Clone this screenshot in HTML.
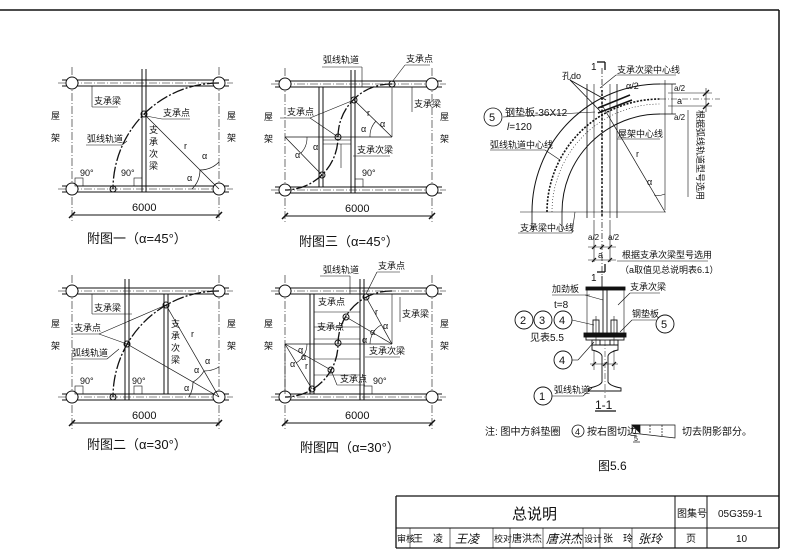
<!DOCTYPE html>
<html><head><meta charset="utf-8"><style>
html,body{margin:0;padding:0;background:#fff;}
svg{display:block;}
text{font-family:"Liberation Sans","Noto Sans CJK SC",sans-serif;fill:#111;}
.c{font-size:9px;}
.cap{font-size:13px;}
</style></head><body>
<svg width="786" height="555" viewBox="0 0 786 555" xmlns="http://www.w3.org/2000/svg">
<defs>
<g id="frame" stroke="#111" fill="none" stroke-width="1">
  <line x1="-10" y1="-109" x2="157" y2="-109"/><line x1="-10" y1="-103" x2="157" y2="-103"/>
  <line x1="-10" y1="-3" x2="157" y2="-3"/><line x1="-10" y1="3" x2="157" y2="3"/>
  <line x1="-14" y1="-106" x2="161" y2="-106" stroke-dasharray="8,2,1,2" stroke-width="0.6"/>
  <line x1="-14" y1="0" x2="161" y2="0" stroke-dasharray="8,2,1,2" stroke-width="0.6"/>
  <line x1="0" y1="-122" x2="0" y2="32" stroke-dasharray="8,2,1,2" stroke-width="0.6"/>
  <line x1="147" y1="-122" x2="147" y2="32" stroke-dasharray="8,2,1,2" stroke-width="0.6"/>
  <circle cx="0" cy="-106" r="6" fill="#fff"/><circle cx="147" cy="-106" r="6" fill="#fff"/>
  <circle cx="0" cy="0" r="6" fill="#fff"/><circle cx="147" cy="0" r="6" fill="#fff"/>
  <line x1="0" y1="26" x2="147" y2="26"/>
  <line x1="-3" y1="29" x2="3" y2="23" stroke-width="1.5"/><line x1="144" y1="29" x2="150" y2="23" stroke-width="1.5"/>
</g>
</defs>

<line x1="0" y1="10" x2="779" y2="10" stroke="#111" stroke-width="1.5"/>
<line x1="779" y1="10" x2="779" y2="548" stroke="#111" stroke-width="1.5"/>

<!-- 附图一 -->
<g transform="translate(72,189)">
  <use href="#frame"/>
  <g stroke="#111" fill="none">
    <line x1="70" y1="-120" x2="70" y2="3"/><line x1="74" y1="-120" x2="74" y2="3"/>
    <path d="M147,-106 A106,106 0 0 0 41,0" stroke-width="1.3" stroke-dasharray="12,2,2,2"/>
    <circle cx="72" cy="-75" r="3"/><circle cx="41" cy="0" r="3"/>
    <line x1="147" y1="0" x2="72" y2="-75" stroke-width="0.7"/>
    <path d="M120,0 A27,27 0 0 0 128,-19" stroke-width="0.7"/>
    <path d="M128,-19 A27,27 0 0 0 147,-27" stroke-width="0.7"/>
    <line x1="20" y1="-103" x2="20" y2="-82" stroke-width="0.6"/><line x1="20" y1="-82" x2="46" y2="-82" stroke-width="0.6"/>
    <line x1="74" y1="-73" x2="90" y2="-70" stroke-width="0.6"/><line x1="90" y1="-70" x2="118" y2="-70" stroke-width="0.6"/>
    <line x1="14" y1="-44" x2="50" y2="-44" stroke-width="0.6"/><line x1="50" y1="-44" x2="55" y2="-48" stroke-width="0.6"/>
    <rect x="3" y="-11" width="8" height="8" stroke-width="0.6"/><rect x="62" y="-11" width="8" height="8" stroke-width="0.6"/>
  </g>
  <text class="c" x="22" y="-85">支承梁</text>
  <text class="c" x="91" y="-73">支承点</text>
  <text class="c" x="15" y="-47">弧线轨道</text>
  <text class="c" x="-21" y="-70">屋</text><text class="c" x="-21" y="-48">架</text>
  <text class="c" x="155" y="-70">屋</text><text class="c" x="155" y="-48">架</text>
  <text class="c" x="77" y="-56">支</text><text class="c" x="77" y="-44">承</text><text class="c" x="77" y="-32">次</text><text class="c" x="77" y="-20">梁</text>
  <text class="c" x="8" y="-13">90°</text><text class="c" x="49" y="-13">90°</text>
  <text class="c" x="112" y="-40">r</text><text class="c" x="130" y="-30">α</text><text class="c" x="115" y="-8">α</text>
  <text x="60" y="22" font-size="11">6000</text>
  <text class="cap" x="15" y="54">附图一（α=45°）</text>
</g>

<!-- 附图三 -->
<g transform="translate(285,190)">
  <use href="#frame"/>
  <g stroke="#111" fill="none">
    <line x1="34" y1="-103" x2="34" y2="-3"/><line x1="38" y1="-103" x2="38" y2="-3"/>
    <line x1="66" y1="-120" x2="66" y2="3"/><line x1="70" y1="-120" x2="70" y2="3"/>
    <path d="M107,-106 A53,53 0 0 0 53,-53 A53,53 0 0 1 0,0" stroke-width="1.3" stroke-dasharray="12,2,2,2"/>
    <circle cx="107" cy="-106" r="3"/><circle cx="69" cy="-90" r="3"/><circle cx="53" cy="-53" r="3"/><circle cx="37" cy="-15" r="3"/>
    <line x1="107" y1="-53" x2="69" y2="-90" stroke-width="0.7"/><line x1="107" y1="-53" x2="53" y2="-53" stroke-width="0.7"/>
    <line x1="107" y1="-103" x2="107" y2="-53" stroke-width="0.6"/>
    <line x1="0" y1="-53" x2="37" y2="-15" stroke-width="0.7"/><line x1="0" y1="-53" x2="53" y2="-53" stroke-width="0.7"/>
    <line x1="38" y1="-50" x2="66" y2="-50" stroke-width="0.6"/><line x1="38" y1="-46" x2="66" y2="-46" stroke-width="0.6"/>
    <line x1="56" y1="-46" x2="56" y2="-22" stroke-width="0.6"/>
    <path d="M85,-53 A22,22 0 0 1 91,-69" stroke-width="0.6"/><path d="M22,-53 A22,22 0 0 1 16,-37" stroke-width="0.6"/>
    <line x1="25" y1="-72" x2="53" y2="-53" stroke-width="0.6"/><line x1="25" y1="-72" x2="69" y2="-90" stroke-width="0.6"/>
    <line x1="-5" y1="-72" x2="25" y2="-72" stroke-width="0.6"/>
    <line x1="68" y1="-34" x2="105" y2="-34" stroke-width="0.6"/>
    <line x1="37" y1="-123" x2="77" y2="-123" stroke-width="0.6"/><line x1="77" y1="-123" x2="77" y2="-103" stroke-width="0.6"/>
    <line x1="107" y1="-108" x2="120" y2="-125" stroke-width="0.6"/><line x1="120" y1="-125" x2="145" y2="-125" stroke-width="0.6"/>
    <line x1="127" y1="-103" x2="127" y2="-78" stroke-width="0.6"/>
    <rect x="70" y="-11" width="8" height="8" stroke-width="0.6"/>
  </g>
  <text class="c" x="38" y="-127">弧线轨道</text>
  <text class="c" x="121" y="-128">支承点</text>
  <text class="c" x="129" y="-83">支承梁</text>
  <text class="c" x="2" y="-75">支承点</text>
  <text class="c" x="72" y="-37">支承次梁</text>
  <text class="c" x="-21" y="-70">屋</text><text class="c" x="-21" y="-48">架</text>
  <text class="c" x="155" y="-70">屋</text><text class="c" x="155" y="-48">架</text>
  <text class="c" x="77" y="-14">90°</text>
  <text class="c" x="82" y="-74">r</text><text class="c" x="95" y="-63">α</text><text class="c" x="76" y="-58">α</text>
  <text class="c" x="10" y="-32">α</text><text class="c" x="28" y="-40">α</text>
  <text x="60" y="22" font-size="11">6000</text>
  <text class="cap" x="14" y="56">附图三（α=45°）</text>
</g>

<!-- 附图二 -->
<g transform="translate(72,397)">
  <use href="#frame"/>
  <g stroke="#111" fill="none">
    <line x1="53" y1="-118" x2="53" y2="3"/><line x1="57" y1="-118" x2="57" y2="3"/>
    <line x1="92" y1="-103" x2="92" y2="-3"/><line x1="96" y1="-103" x2="96" y2="-3"/>
    <path d="M147,-106 A106,106 0 0 0 41,0" stroke-width="1.3" stroke-dasharray="12,2,2,2"/>
    <circle cx="94" cy="-92" r="3"/><circle cx="55" cy="-53" r="3"/><circle cx="41" cy="0" r="3"/>
    <line x1="147" y1="0" x2="94" y2="-92" stroke-width="0.7"/><line x1="147" y1="0" x2="55" y2="-53" stroke-width="0.7"/>
    <path d="M117,0 A30,30 0 0 0 121,-15" stroke-width="0.7"/><path d="M121,-15 A30,30 0 0 0 132,-26" stroke-width="0.7"/><path d="M132,-26 A30,30 0 0 0 147,-30" stroke-width="0.7"/>
    <line x1="20" y1="-103" x2="20" y2="-83" stroke-width="0.6"/><line x1="20" y1="-83" x2="60" y2="-83" stroke-width="0.6"/>
    <line x1="0" y1="-63" x2="27" y2="-63" stroke-width="0.6"/><line x1="27" y1="-63" x2="94" y2="-92" stroke-width="0.6"/><line x1="27" y1="-63" x2="55" y2="-53" stroke-width="0.6"/>
    <line x1="0" y1="-38" x2="35" y2="-38" stroke-width="0.6"/><line x1="35" y1="-38" x2="47" y2="-48" stroke-width="0.6"/>
    <rect x="3" y="-11" width="8" height="8" stroke-width="0.6"/><rect x="62" y="-11" width="8" height="8" stroke-width="0.6"/>
  </g>
  <text class="c" x="22" y="-86">支承梁</text>
  <text class="c" x="2" y="-66">支承点</text>
  <text class="c" x="0" y="-41">弧线轨道</text>
  <text class="c" x="-21" y="-70">屋</text><text class="c" x="-21" y="-48">架</text>
  <text class="c" x="155" y="-70">屋</text><text class="c" x="155" y="-48">架</text>
  <text class="c" x="99" y="-70">支</text><text class="c" x="99" y="-58">承</text><text class="c" x="99" y="-46">次</text><text class="c" x="99" y="-34">梁</text>
  <text class="c" x="8" y="-13">90°</text><text class="c" x="60" y="-13">90°</text>
  <text class="c" x="119" y="-60">r</text><text class="c" x="133" y="-33">α</text><text class="c" x="122" y="-24">α</text><text class="c" x="112" y="-6">α</text>
  <text x="60" y="22" font-size="11">6000</text>
  <text class="cap" x="15" y="52">附图二（α=30°）</text>
</g>

<!-- 附图四 -->
<g transform="translate(285,397)">
  <use href="#frame"/>
  <g stroke="#111" fill="none">
    <line x1="25" y1="-103" x2="25" y2="-3"/><line x1="29" y1="-103" x2="29" y2="-3"/>
    <line x1="75" y1="-118" x2="75" y2="3"/><line x1="79" y1="-118" x2="79" y2="3"/>
    <path d="M107,-106 A53,53 0 0 0 53,-53 A53,53 0 0 1 0,0" stroke-width="1.3" stroke-dasharray="12,2,2,2"/>
    <circle cx="81" cy="-100" r="3"/><circle cx="61" cy="-80" r="3"/><circle cx="53" cy="-54" r="3"/><circle cx="46" cy="-27" r="3"/><circle cx="27" cy="-8" r="3"/>
    <line x1="107" y1="-53" x2="81" y2="-100" stroke-width="0.7"/><line x1="107" y1="-53" x2="61" y2="-80" stroke-width="0.7"/><line x1="107" y1="-53" x2="53" y2="-53" stroke-width="0.7"/>
    <line x1="107" y1="-103" x2="107" y2="-53" stroke-width="0.6"/>
    <line x1="0" y1="-53" x2="46" y2="-27" stroke-width="0.7"/><line x1="0" y1="-53" x2="27" y2="-8" stroke-width="0.7"/><line x1="0" y1="-53" x2="53" y2="-53" stroke-width="0.7"/>
    <line x1="0" y1="-53" x2="0" y2="-3" stroke-width="0.6"/>
    <line x1="29" y1="-85" x2="75" y2="-85" stroke-width="0.6"/><line x1="29" y1="-70" x2="75" y2="-70" stroke-width="0.6"/>
    <line x1="29" y1="-58" x2="75" y2="-58" stroke-width="0.6"/><line x1="29" y1="-38" x2="75" y2="-38" stroke-width="0.6"/>
    <line x1="29" y1="-22" x2="75" y2="-22" stroke-width="0.6"/>
    <path d="M85,-53 A22,22 0 0 1 88,-64" stroke-width="0.6"/><path d="M88,-64 A22,22 0 0 1 96,-72" stroke-width="0.6"/>
    <path d="M22,-53 A22,22 0 0 1 19,-42" stroke-width="0.6"/><path d="M19,-42 A22,22 0 0 1 11,-34" stroke-width="0.6"/>
    <line x1="35" y1="-121" x2="65" y2="-121" stroke-width="0.6"/><line x1="65" y1="-121" x2="65" y2="-103" stroke-width="0.6"/>
    <line x1="81" y1="-103" x2="92" y2="-125" stroke-width="0.6"/><line x1="92" y1="-125" x2="115" y2="-125" stroke-width="0.6"/>
    <line x1="115" y1="-100" x2="115" y2="-75" stroke-width="0.6"/>
    <line x1="80" y1="-40" x2="115" y2="-40" stroke-width="0.6"/>
    <line x1="52" y1="-12" x2="80" y2="-12" stroke-width="0.6"/><line x1="52" y1="-12" x2="46" y2="-27" stroke-width="0.6"/>
    <rect x="79" y="-11" width="8" height="8" stroke-width="0.6"/>
  </g>
  <text class="c" x="38" y="-124">弧线轨道</text>
  <text class="c" x="93" y="-128">支承点</text>
  <text class="c" x="117" y="-80">支承梁</text>
  <text class="c" x="33" y="-92">支承点</text>
  <text class="c" x="32" y="-67">支承点</text>
  <text class="c" x="84" y="-43">支承次梁</text>
  <text class="c" x="55" y="-15">支承点</text>
  <text class="c" x="-21" y="-70">屋</text><text class="c" x="-21" y="-48">架</text>
  <text class="c" x="155" y="-70">屋</text><text class="c" x="155" y="-48">架</text>
  <text class="c" x="88" y="-13">90°</text>
  <text class="c" x="90" y="-82">r</text><text class="c" x="98" y="-68">α</text><text class="c" x="85" y="-62">α</text><text class="c" x="77" y="-54">α</text>
  <text class="c" x="5" y="-30">α</text><text class="c" x="16" y="-37">α</text><text class="c" x="13" y="-44">α</text><text class="c" x="20" y="-28">r</text>
  <text x="60" y="22" font-size="11">6000</text>
  <text class="cap" x="15" y="55">附图四（α=30°）</text>
</g>

<!-- right detail -->
<g stroke="#111" fill="none" stroke-width="0.8">
  <path d="M532,212 A128,128 0 0 1 660,84" stroke-width="1"/>
  <path d="M562,212 A98,98 0 0 1 660,114" stroke-width="1"/>
  <path d="M547,212 A113,113 0 0 1 660,99" stroke-dasharray="2,1.5" stroke-width="1.6"/>
  <path d="M552,212 A108,108 0 0 1 660,104" stroke-dasharray="1,2" stroke-width="0.6"/>
  <line x1="532" y1="212" x2="532" y2="230"/><line x1="562" y1="212" x2="562" y2="230"/>
  <line x1="520" y1="212" x2="666" y2="212" stroke-width="0.6"/>
  <line x1="660" y1="84" x2="676" y2="84"/><line x1="660" y1="114" x2="676" y2="114"/>
  <line x1="660" y1="99" x2="720" y2="99" stroke-dasharray="6,2,1,2" stroke-width="0.6"/>
  <line x1="665" y1="80" x2="665" y2="210" stroke-width="0.6"/>
  <line x1="668" y1="93" x2="712" y2="93" stroke-width="0.6"/><line x1="668" y1="106" x2="712" y2="106" stroke-width="0.6"/>
  <line x1="706" y1="88" x2="706" y2="112" stroke-width="0.6"/>
  <line x1="703" y1="96" x2="709" y2="90" stroke-width="1.3"/><line x1="703" y1="109" x2="709" y2="103" stroke-width="1.3"/>
  <line x1="672" y1="84" x2="672" y2="114" stroke-width="0.6"/>
  <line x1="688" y1="110" x2="688" y2="197" stroke-width="0.6"/>
  <line x1="587" y1="84" x2="587" y2="218"/><line x1="617" y1="84" x2="617" y2="218"/>
  <line x1="594" y1="84" x2="594" y2="218" stroke-width="0.6"/><line x1="610" y1="84" x2="610" y2="218" stroke-width="0.6"/>
  <line x1="602" y1="68" x2="602" y2="278" stroke-dasharray="6,2,1,2" stroke-width="0.7"/>
  <line x1="602" y1="90" x2="602" y2="218" stroke-dasharray="2,2" stroke-width="1.5"/>
  <line x1="597" y1="62" x2="605" y2="62" stroke-width="1.3"/><line x1="605" y1="62" x2="605" y2="70" stroke-width="1.3"/>
  <line x1="597" y1="272" x2="605" y2="272" stroke-width="1.3"/><line x1="605" y1="264" x2="605" y2="272" stroke-width="1.3"/>
  <line x1="602" y1="105" x2="665" y2="212" stroke-width="0.7"/>
  <path d="M654,195 A18,18 0 0 0 665,194" stroke-width="0.6"/>
  <line x1="570" y1="80" x2="602" y2="113"/><line x1="570" y1="80" x2="606" y2="100"/>
  <line x1="616" y1="75" x2="600" y2="88" stroke-width="0.6"/><line x1="616" y1="75" x2="676" y2="75" stroke-width="0.6"/>
  <line x1="503" y1="117" x2="595" y2="112" stroke-width="0.6"/>
  <line x1="490" y1="150" x2="545" y2="150" stroke-width="0.6"/><line x1="545" y1="150" x2="560" y2="160" stroke-width="0.6"/>
  <line x1="617" y1="139" x2="660" y2="139" stroke-width="0.6"/>
  <line x1="518" y1="233" x2="572" y2="233" stroke-width="0.6"/><line x1="572" y1="233" x2="575" y2="212" stroke-width="0.6"/>
  <circle cx="493" cy="117" r="9"/>
  <g stroke-width="1.5"><line x1="598" y1="108" x2="630" y2="95"/><line x1="598" y1="113" x2="632" y2="100"/></g>
  <line x1="594" y1="220" x2="594" y2="262" stroke-width="0.6"/><line x1="610" y1="220" x2="610" y2="262" stroke-width="0.6"/>
  <line x1="588" y1="247" x2="616" y2="247" stroke-width="0.6"/><line x1="588" y1="260" x2="616" y2="260" stroke-width="0.6"/>
  <line x1="592" y1="249" x2="596" y2="245" stroke-width="1.2"/><line x1="600" y1="249" x2="604" y2="245" stroke-width="1.2"/><line x1="608" y1="249" x2="612" y2="245" stroke-width="1.2"/>
  <line x1="592" y1="262" x2="596" y2="258" stroke-width="1.2"/><line x1="608" y1="262" x2="612" y2="258" stroke-width="1.2"/>
  <line x1="617" y1="261" x2="708" y2="261" stroke-width="0.6"/>
</g>
<text x="591" y="70" font-size="10">1</text>
<text x="591" y="281" font-size="10">1</text>
<text class="c" x="617" y="73">支承次梁中心线</text>
<text class="c" x="562" y="79">孔do</text>
<text x="489" y="121" font-size="11">5</text>
<text x="505" y="116" font-size="10">钢垫板-36X12</text>
<text x="507" y="130" font-size="10"><tspan font-style="italic">l</tspan>=120</text>
<text class="c" x="490" y="148">弧线轨道中心线</text>
<text class="c" x="618" y="137">屋架中心线</text>
<text class="c" x="520" y="231">支承梁中心线</text>
<text class="c" x="636" y="157">r</text>
<text class="c" x="647" y="185">α</text>
<text class="c" x="626" y="89">α/2</text>
<text x="677" y="104" font-size="9">a</text>
<text x="674" y="91" font-size="8">a/2</text><text x="674" y="120" font-size="8">a/2</text>
<text class="c" x="0" y="0" transform="translate(697,110) rotate(90)">根据弧线轨道型号选用</text>
<text x="588" y="240" font-size="8">a/2</text><text x="608" y="240" font-size="8">a/2</text>
<text x="598" y="258" font-size="9">a</text>
<text class="c" x="622" y="258">根据支承次梁型号选用</text>
<text class="c" x="620" y="273">（a取值见总说明表6.1）</text>

<!-- section 1-1 -->
<g stroke="#111" fill="none" stroke-width="0.9">
  <line x1="602" y1="276" x2="602" y2="288"/>
  <rect x="586" y="287" width="39" height="3" fill="#111"/>
  <line x1="603" y1="290" x2="603" y2="333"/><line x1="607" y1="290" x2="607" y2="333"/>
  <line x1="587" y1="290" x2="587" y2="333" stroke-width="0.6"/><line x1="624" y1="290" x2="624" y2="333" stroke-width="0.6"/>
  <rect x="584" y="333" width="42" height="4" fill="#111"/>
  <rect x="586" y="337" width="38" height="3"/>
  <rect x="593" y="320" width="6" height="13"/><rect x="611" y="320" width="6" height="13"/>
  <rect x="592" y="340" width="8" height="5"/><rect x="610" y="340" width="8" height="5"/>
  <line x1="596" y1="316" x2="596" y2="350" stroke-width="0.6"/><line x1="614" y1="316" x2="614" y2="350" stroke-width="0.6"/>
  <path d="M592,345 H618 V350 Q609,352 608,356 V382 Q610,386 621,388 V391 H589 V388 Q600,386 602,382 V356 Q601,352 592,350 Z" fill="#fff"/>
  <line x1="605" y1="340" x2="605" y2="398" stroke-dasharray="6,2,1,2" stroke-width="0.5"/>
  <line x1="594" y1="350" x2="594" y2="370" stroke-width="0.5"/><line x1="614" y1="350" x2="614" y2="370" stroke-width="0.5"/>
  <line x1="590" y1="364" x2="618" y2="364" stroke-width="0.5"/>
  <line x1="592" y1="366" x2="596" y2="362" stroke-width="1.2"/><line x1="603" y1="366" x2="607" y2="362" stroke-width="1.2"/><line x1="612" y1="366" x2="616" y2="362" stroke-width="1.2"/>
  <line x1="552" y1="295" x2="590" y2="295" stroke-width="0.6"/><line x1="585" y1="295" x2="603" y2="300" stroke-width="0.6"/>
  <line x1="572" y1="320" x2="594" y2="325" stroke-width="0.6"/>
  <line x1="572" y1="360" x2="578" y2="360" stroke-width="0.6"/><line x1="578" y1="360" x2="594" y2="342" stroke-width="0.6"/>
  <line x1="630" y1="293" x2="660" y2="293" stroke-width="0.6"/><line x1="630" y1="293" x2="618" y2="305" stroke-width="0.6"/>
  <line x1="632" y1="320" x2="656" y2="320" stroke-width="0.6"/><line x1="632" y1="320" x2="620" y2="332" stroke-width="0.6"/>
  <line x1="552" y1="396" x2="583" y2="396" stroke-width="0.6"/><line x1="583" y1="396" x2="592" y2="388" stroke-width="0.6"/>
  <circle cx="524" cy="320" r="9"/><circle cx="543" cy="320" r="9"/><circle cx="563" cy="320" r="9"/>
  <circle cx="563" cy="360" r="9"/><circle cx="665" cy="324" r="9"/><circle cx="543" cy="396" r="9"/>
  <line x1="595" y1="411" x2="616" y2="411" stroke-width="1.2"/>
</g>
<text class="c" x="552" y="292">加劲板</text>
<text x="554" y="308" font-size="10">t=8</text>
<text x="520" y="324" font-size="11">2</text><text x="539" y="324" font-size="11">3</text><text x="559" y="324" font-size="11">4</text>
<text x="530" y="341" font-size="10">见表5.5</text>
<text x="559" y="364" font-size="11">4</text>
<text x="661" y="328" font-size="11">5</text>
<text x="539" y="400" font-size="11">1</text>
<text class="c" x="630" y="290">支承次梁</text>
<text class="c" x="632" y="317">钢垫板</text>
<text class="c" x="554" y="393">弧线轨道</text>
<text x="595" y="409" font-size="12">1-1</text>
<text x="485" y="435" font-size="10">注: 图中方斜垫圈</text>
<circle cx="578" cy="431" r="6" fill="none" stroke="#111" stroke-width="0.8"/>
<text x="575" y="435" font-size="9">4</text>
<text x="587" y="435" font-size="10">按右图切边</text>
<g stroke="#111" fill="none" stroke-width="0.7">
  <path d="M632,425 L675,425 L675,438 L632,433 Z"/>
  <path d="M632,425 L640,425 L640,433 Z" fill="#111"/>
  <line x1="650" y1="425" x2="650" y2="434" stroke-dasharray="2,1"/><line x1="662" y1="425" x2="662" y2="436" stroke-dasharray="2,1"/>
  <line x1="633" y1="442" x2="640" y2="442"/>
</g>
<text x="634" y="441" font-size="7">5</text>
<text x="682" y="435" font-size="10">切去阴影部分。</text>
<text x="598" y="470" font-size="12">图5.6</text>

<!-- title block -->
<g stroke="#111" fill="none" stroke-width="1">
  <line x1="396" y1="496" x2="779" y2="496" stroke-width="1.3"/>
  <line x1="396" y1="496" x2="396" y2="548" stroke-width="1.3"/>
  <line x1="396" y1="528" x2="779" y2="528"/>
  <line x1="396" y1="548" x2="779" y2="548" stroke-width="1.3"/>
  <line x1="675" y1="496" x2="675" y2="548"/><line x1="707" y1="496" x2="707" y2="548"/>
  <line x1="410" y1="528" x2="410" y2="548" stroke-width="0.6"/><line x1="450" y1="528" x2="450" y2="548" stroke-width="0.6"/>
  <line x1="493" y1="528" x2="493" y2="548" stroke-width="0.6"/><line x1="510" y1="528" x2="510" y2="548" stroke-width="0.6"/>
  <line x1="543" y1="528" x2="543" y2="548" stroke-width="0.6"/><line x1="583" y1="528" x2="583" y2="548" stroke-width="0.6"/>
  <line x1="600" y1="528" x2="600" y2="548" stroke-width="0.6"/><line x1="632" y1="528" x2="632" y2="548" stroke-width="0.6"/>
</g>
<text x="512" y="519" font-size="15">总说明</text>
<text x="677" y="517" font-size="10">图集号</text>
<text x="718" y="517" font-size="10" font-family="Liberation Serif">05G359-1</text>
<text x="397" y="542" font-size="9">审核</text><text x="413" y="542" font-size="10">王　凌</text>
<text x="455" y="543" font-size="12" font-style="italic">王凌</text>
<text x="494" y="542" font-size="9">校对</text><text x="512" y="542" font-size="10">唐洪杰</text>
<text x="546" y="543" font-size="12" font-style="italic">唐洪杰</text>
<text x="584" y="542" font-size="9">设计</text><text x="603" y="542" font-size="10">张　玲</text>
<text x="638" y="543" font-size="12" font-style="italic">张玲</text>
<text x="686" y="542" font-size="10">页</text>
<text x="736" y="542" font-size="10" font-family="Liberation Serif">10</text>
</svg>
</body></html>
